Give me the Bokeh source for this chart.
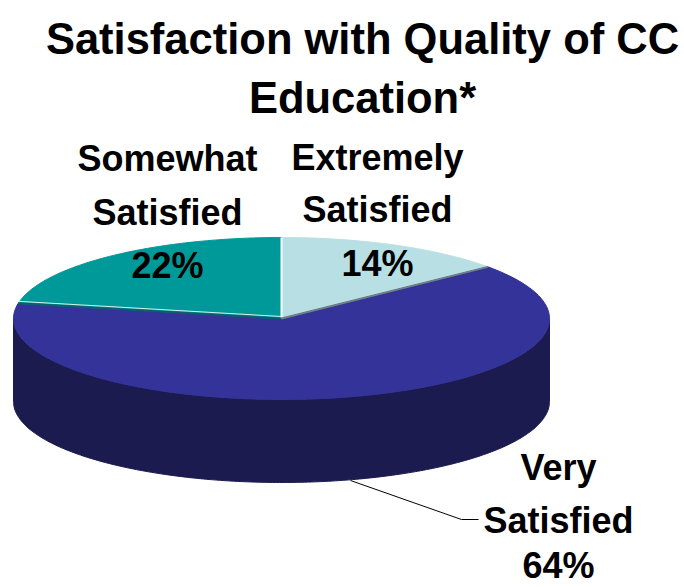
import numpy as np
from bokeh.plotting import figure
from bokeh.embed import file_html
from bokeh.resources import INLINE
from bokeh.core.properties import value

title_lines = ["Satisfaction with Quality of CC", "Education*"]
categories = ["Extremely Satisfied", "Very Satisfied", "Somewhat Satisfied"]
shares = [14, 64, 22]
top_colors = ["#B8E0E4", "#333399", "#009999"]
side_color = "#1B1B4F"
label_lines = [["Extremely", "Satisfied", "14%"], ["Very", "Satisfied", "64%"], ["Somewhat", "Satisfied", "22%"]]

W, H = 684, 587
CX, CY, RX, RY, DEPTH = 281, 318, 268, 81, 83

p = figure(width=W, height=H, x_range=(0, W), y_range=(H, 0), output_backend="svg",
           toolbar_location=None, min_border=0, outline_line_color=None,
           background_fill_color="white", border_fill_color="white")
p.axis.visible = False
p.grid.visible = False


def rim(a0, a1, n=120):
    t = np.radians(np.linspace(a0, a1, n))
    return CX + RX * np.sin(t), CY - RY * np.cos(t)


# side wall: front half of the cylinder
fx, fy = rim(90, 270, 240)
p.patch(np.r_[fx, fx[::-1]], np.r_[fy, fy[::-1] + DEPTH], fill_color=side_color, line_color=side_color)

# top slices
edges = np.cumsum([0] + shares) * 3.6
for i, c in enumerate(top_colors):
    x, y = rim(edges[i], edges[i + 1])
    p.patch(np.r_[CX, x], np.r_[CY, y], fill_color=c, line_color=c, line_width=1)

# slice borders
for a, col in zip(edges[:3], ["white", "#6E7F85", "#0B5F6B"]):
    x, y = rim(a, a, 1)
    p.line([CX, x[0]], [CY, y[0]], line_color=col, line_width=2)
x, y = rim(edges[2], edges[2], 1)
p.line([CX, x[0]], [CY - 2, y[0] - 2], line_color="#D8EFEF", line_width=1)

# leader line from very satisfied
p.line([350, 461, 478], [480, 519, 519], line_color="black", line_width=1)

font = value("Liberation Sans")
positions = [(377, [157, 209, 263]), (558, [467, 520, 565]), (167, [158, 212, 265])]
for (px, ys), lines in zip(positions, label_lines):
    p.text([px] * 3, ys, text=lines, text_font=font, text_font_size="36px", text_font_style="bold",
           text_align="center", text_baseline="middle", text_color="black")
p.text([362, 362], [38, 97], text=title_lines, text_font=font, text_font_size="43.5px", text_font_style="bold",
       text_align="center", text_baseline="middle", text_color="black")

open("out.html", "w").write(file_html(p, INLINE))
